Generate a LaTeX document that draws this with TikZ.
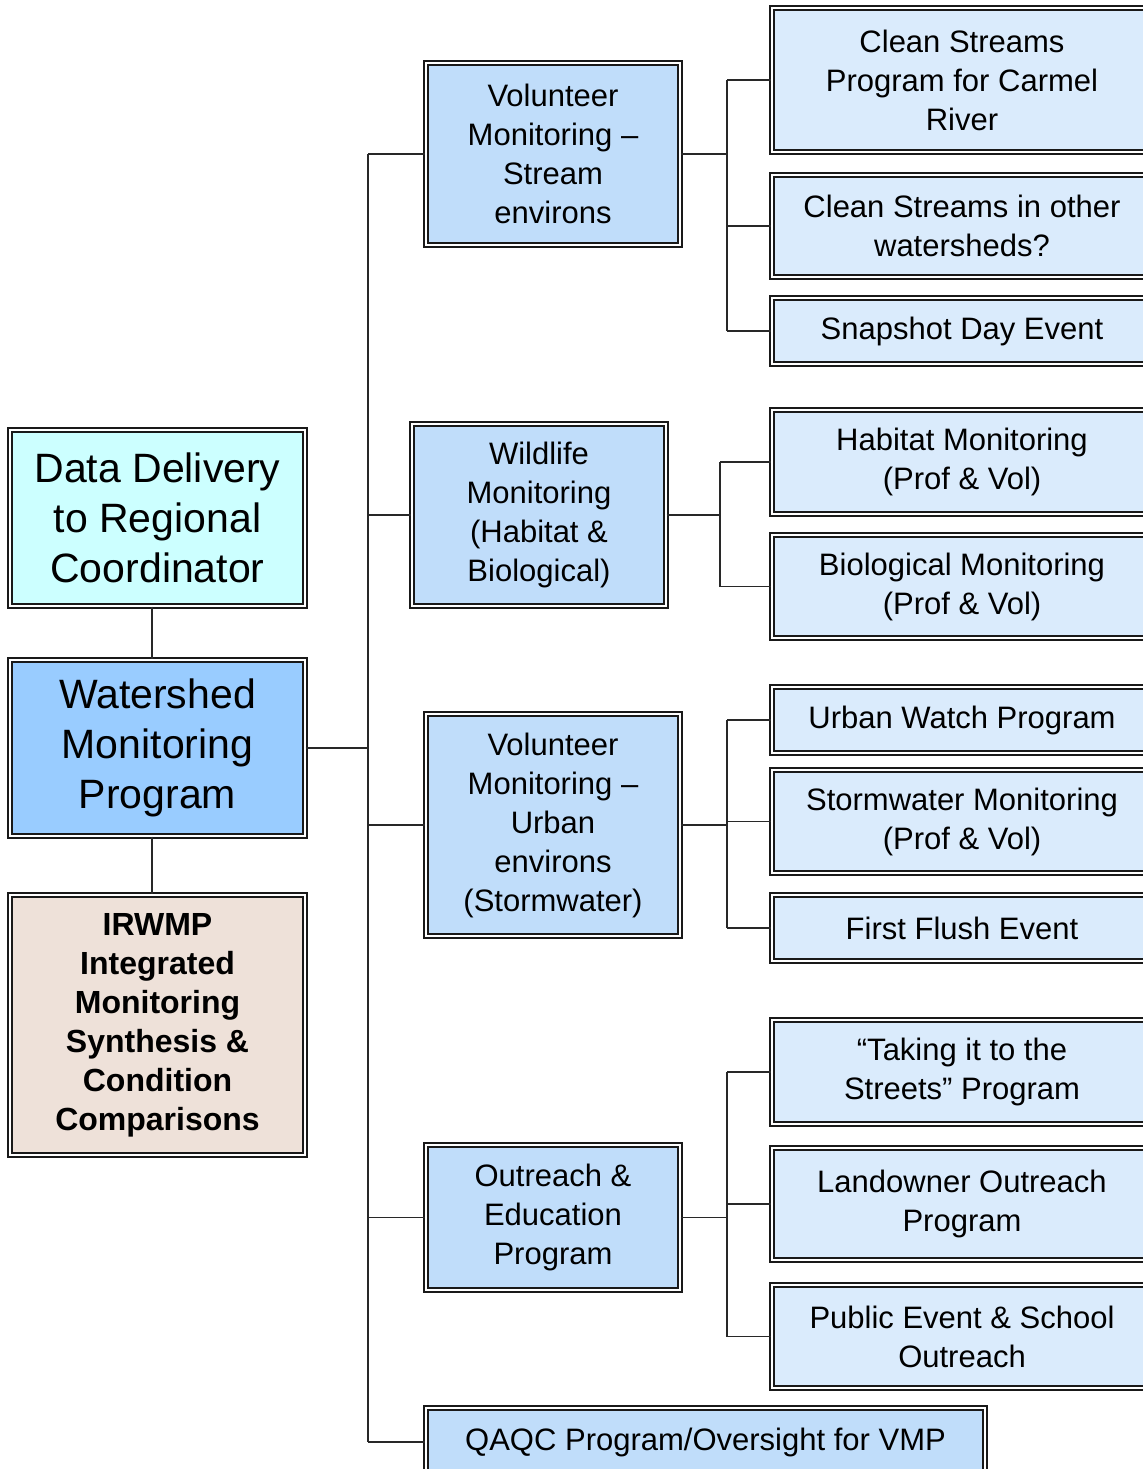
\documentclass[tikz,border=0pt]{standalone}
\usepackage{fontspec}
\setmainfont{Liberation Sans}
\usetikzlibrary{calc}

\definecolor{ddcyan}{RGB}{204,255,255}
\definecolor{wmpblue}{RGB}{153,204,255}
\definecolor{midblue}{RGB}{192,221,250}
\definecolor{leafblue}{RGB}{218,235,252}
\definecolor{irwmpbeige}{RGB}{238,225,217}
\definecolor{linegray}{RGB}{40,40,40}

\tikzset{
    box/.style={draw=black!90, double=white, double distance=1.4pt, line width=0.7pt,
                align=center, inner sep=2pt},
    leftbox/.style={box, minimum width=147.5pt, minimum height=88pt,
                font=\fontsize{20.5}{25}\selectfont},
    midbox/.style={box, fill=midblue, minimum width=127pt,
                font=\fontsize{15.5}{19.5}\selectfont},
    leafbox/.style={box, fill=leafblue, minimum width=190pt,
                font=\fontsize{15.5}{19.5}\selectfont},
    link/.style={draw=linegray, line width=0.85pt}
}

\begin{document}
\begin{tikzpicture}[x=0.5pt, y=-0.5pt]
    \useasboundingbox (0,0) rectangle (1143,1469);
    \fill[white] (0,0) rectangle (1143,1469);
    \clip (0,0) rectangle (1143,1469);

    \node[leftbox, fill=ddcyan] (dd) at (157.5,518) {Data Delivery\\to Regional\\Coordinator};
    \node[leftbox, fill=wmpblue] (wmp) at (157.5,748) {Watershed\\Monitoring\\Program};
    \node[leftbox, fill=irwmpbeige, minimum height=130pt, font=\fontsize{16}{19.5}\selectfont\bfseries]
        (irwmp) at (157.5,1025) {IRWMP\\Integrated\\Monitoring\\Synthesis \&\\Condition\\Comparisons};

    \node[midbox, minimum height=91pt] (vms) at (553,154) {Volunteer\\Monitoring –\\Stream\\environs};
    \node[midbox, minimum height=91pt] (wild) at (539,515) {Wildlife\\Monitoring\\(Habitat \&\\Biological)};
    \node[midbox, minimum height=111pt] (vmu) at (553,825) {Volunteer\\Monitoring –\\Urban\\environs\\(Stormwater)};
    \node[midbox, minimum height=72.5pt] (outr) at (553,1217.5) {Outreach \&\\Education\\Program};
    \node[midbox, minimum width=279.5pt, minimum height=34pt] (qaqc) at (705.5,1442) {QAQC Program/Oversight for VMP};

    \node[leafbox, minimum height=72pt] (cscr) at (962,80) {Clean Streams\\Program for Carmel\\River};
    \node[leafbox, minimum height=51pt] (csow) at (962,226) {Clean Streams in other\\watersheds?};
    \node[leafbox, minimum height=33pt] (snap) at (962,331) {Snapshot Day Event};
    \node[leafbox, minimum height=52pt] (habm) at (962,462) {Habitat Monitoring\\(Prof \& Vol)};
    \node[leafbox, minimum height=51.5pt] (biom) at (962,586.5) {Biological Monitoring\\(Prof \& Vol)};
    \node[leafbox, minimum height=33pt] (urbw) at (962,720) {Urban Watch Program};
    \node[leafbox, minimum height=51.5pt] (stom) at (962,821.5) {Stormwater Monitoring\\(Prof \& Vol)};
    \node[leafbox, minimum height=33pt] (ffe) at (962,928) {First Flush Event};
    \node[leafbox, minimum height=52pt] (tits) at (962,1072) {“Taking it to the\\Streets” Program};
    \node[leafbox, minimum height=56pt] (lop) at (962,1204) {Landowner Outreach\\Program};
    \node[leafbox, minimum height=51.5pt] (pes) at (962,1336.5) {Public Event \& School\\Outreach};

    \coordinate (spine) at (152,0);
    \coordinate (trunk) at (368,0);
    \coordinate (bstream) at (727,0);
    \coordinate (bwild) at (720,0);
    \coordinate (burban) at (727,0);
    \coordinate (bout) at (727,0);

    \draw[link] (spine |- dd.south) -- (spine |- wmp.north);
    \draw[link] (spine |- wmp.south) -- (spine |- irwmp.north);

    \draw[link] (wmp.east) -- (wmp.east -| trunk);
    \draw[link] (trunk |- vms.west) -- (trunk |- qaqc.west);
    \foreach \n in {vms,wild,vmu,outr,qaqc}
        \draw[link] (trunk |- \n.west) -- (\n.west);

    \draw[link] (vms.east) -- (vms.east -| bstream);
    \draw[link] (bstream |- cscr.west) -- (bstream |- snap.west);
    \foreach \n in {cscr,csow,snap}
        \draw[link] (bstream |- \n.west) -- (\n.west);

    \draw[link] (wild.east) -- (wild.east -| bwild);
    \draw[link] (bwild |- habm.west) -- (bwild |- biom.west);
    \foreach \n in {habm,biom}
        \draw[link] (bwild |- \n.west) -- (\n.west);

    \draw[link] (vmu.east) -- (vmu.east -| burban);
    \draw[link] (burban |- urbw.west) -- (burban |- ffe.west);
    \foreach \n in {urbw,stom,ffe}
        \draw[link] (burban |- \n.west) -- (\n.west);

    \draw[link] (outr.east) -- (outr.east -| bout);
    \draw[link] (bout |- tits.west) -- (bout |- pes.west);
    \foreach \n in {tits,lop,pes}
        \draw[link] (bout |- \n.west) -- (\n.west);
\end{tikzpicture}
\end{document}
